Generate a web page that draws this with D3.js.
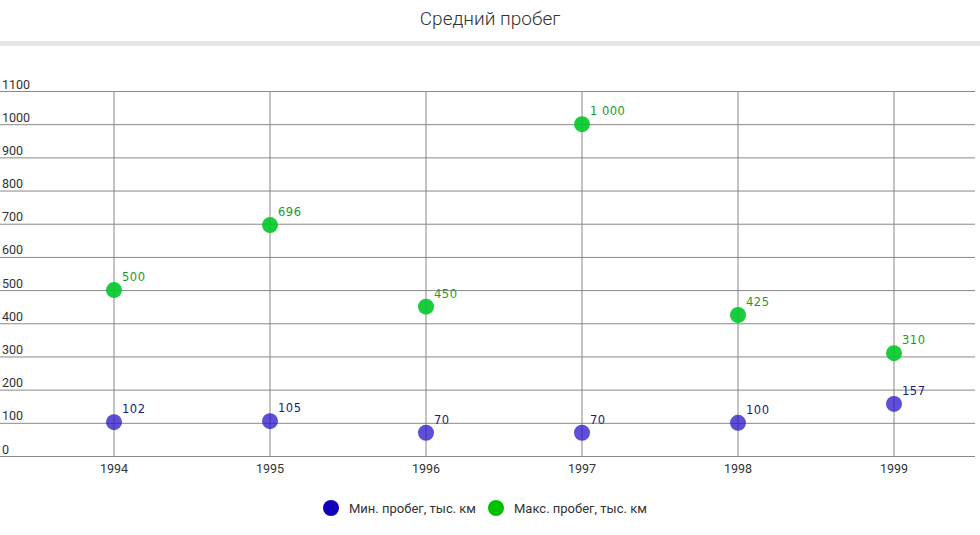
<!DOCTYPE html>
<html><head><meta charset="utf-8">
<script src="https://cdn.jsdelivr.net/npm/d3@7"></script>
<style>body{margin:0;background:#fff;font-family:Roboto,"Noto Sans",sans-serif;}</style>
</head><body><svg id="c" width="980" height="535"></svg>
<script>
const title = "Средний пробег";
const years = ["1994","1995","1996","1997","1998","1999"];
const minRun = [102,105,70,70,100,157];
const maxRun = [500,696,450,1000,425,310];
const yTicks = [0,100,200,300,400,500,600,700,800,900,1000,1100];
const seriesNames = ["Мин. пробег, тыс. км","Макс. пробег, тыс. км"];

const svg = d3.select("#c");
const x = d3.scaleBand().domain(years).range([36,972]);
const y = d3.scaleLinear().domain([0,1100]).range([456,91]);
const fmt = v => d3.format(",")(v).replace(/,/g," ");

svg.append("text").attr("x",490).attr("y",25).attr("text-anchor","middle")
  .attr("font-size",19).attr("fill","#333").attr("font-weight",300).text(title);
svg.append("rect").attr("x",0).attr("y",41).attr("width",980).attr("height",5).attr("fill","#e6e6e6");

// horizontal grid
const yAxis = svg.append("g")
  .call(d3.axisRight(y).tickValues(yTicks).tickSize(975).tickFormat(d=>d));
yAxis.select(".domain").remove();
yAxis.selectAll(".tick line").attr("stroke","#888").attr("stroke-width",1);
yAxis.selectAll(".tick text").attr("x",2).attr("dy",-3).attr("text-anchor","start")
  .attr("font-size",12.5).attr("fill","#333").attr("font-family","Roboto");

// vertical grid
const xAxis = svg.append("g").attr("transform","translate(0,456)")
  .call(d3.axisBottom(x).tickSize(-(456-91)).tickPadding(8));
xAxis.select(".domain").remove();
xAxis.selectAll(".tick line").attr("stroke","#888");
xAxis.selectAll(".tick text").attr("font-size",12.5).attr("fill","#333").attr("font-family","Roboto");

const cx = d => x(d)+x.bandwidth()/2;
const series = [
  {vals:minRun, fill:"rgba(40,20,200,0.75)", lab:"#1c1a80", leg:"#1000bb"},
  {vals:maxRun, fill:"rgba(0,200,40,0.9)", lab:"#1a9a2a", leg:"#00c000"}
];
series.forEach(s=>{
  const g = svg.append("g");
  g.selectAll("circle").data(years).join("circle")
    .attr("cx",d=>cx(d)).attr("cy",(d,i)=>y(s.vals[i])).attr("r",8).attr("fill",s.fill);
  g.selectAll("text").data(years).join("text")
    .attr("x",d=>cx(d)+8).attr("y",(d,i)=>y(s.vals[i])-9)
    .attr("fill",s.lab).attr("font-family","'DejaVu Sans'")
    .attr("letter-spacing",0.5).style("font-size","11.5px")
    .text((d,i)=>fmt(s.vals[i]));
});

// legend
const legX = [331,496];
seriesNames.forEach((n,i)=>{
  svg.append("circle").attr("cx",legX[i]).attr("cy",508).attr("r",8).attr("fill",series[i].leg);
  svg.append("text").attr("x",legX[i]+18).attr("y",513).attr("font-size",13)
    .attr("fill","#333").text(n);
});
</script></body></html>
